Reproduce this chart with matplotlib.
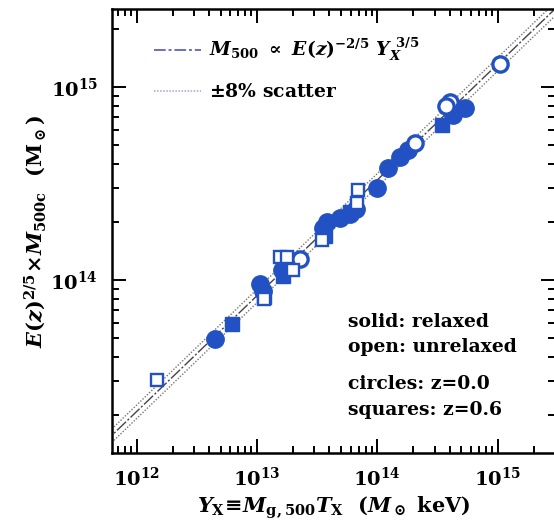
import numpy as np
import matplotlib
matplotlib.use("Agg")
import matplotlib.pyplot as plt
from matplotlib.lines import Line2D

plt.rcParams['font.family'] = ['DejaVu Serif']
plt.rcParams['font.weight'] = 'bold'
plt.rcParams['mathtext.fontset'] = 'custom'
plt.rcParams['mathtext.rm'] = 'DejaVu Serif:bold'
plt.rcParams['mathtext.it'] = 'DejaVu Serif:italic:bold'
plt.rcParams['mathtext.bf'] = 'DejaVu Serif:bold'

# ---- data ----
# filled circles: z=0.0, relaxed
yx_rel_z0 = [4.49e12, 1.06e13, 1.12e13, 1.61e13, 1.81e13, 3.52e13, 3.81e13, 4.89e13,
             5.92e13, 6.64e13, 9.91e13, 1.22e14, 1.54e14, 1.79e14, 4.24e14, 5.33e14]
m_rel_z0 = [4.94e13, 9.53e13, 8.77e13, 1.13e14, 1.21e14, 1.86e14, 2.00e14, 2.10e14,
            2.20e14, 2.33e14, 3.00e14, 3.80e14, 4.34e14, 4.72e14, 7.16e14, 7.78e14]
# filled squares: z=0.6, relaxed
yx_rel_z6 = [6.19e12, 1.14e13, 1.64e13, 3.68e13, 5.92e13, 3.44e14]
m_rel_z6 = [5.92e13, 8.17e13, 1.05e14, 1.69e14, 2.25e14, 6.35e14]
# open circles: z=0.0, unrelaxed
yx_unr_z0 = [2.27e13, 2.05e14, 4.00e14, 3.71e14, 1.04e15]
m_unr_z0 = [1.28e14, 5.13e14, 8.36e14, 7.97e14, 1.31e15]
# open squares: z=0.6, unrelaxed
yx_unr_z6 = [1.47e12, 1.55e13, 1.77e13, 1.99e13, 3.46e13, 6.88e13, 6.76e13, 1.14e13]
m_unr_z6 = [3.03e13, 1.32e14, 1.32e14, 1.13e14, 1.61e14, 2.93e14, 2.51e14, 7.98e13]

# relation M500 = 10^norm (Yx / 4e13)^(3/5), +/- 8% scatter
log_norm = 14.28
slope = 0.6
y_pivot = 4e13
scatter = 0.08

x_ticks = [1e12, 1e13, 1e14, 1e15]
y_ticks = [1e14, 1e15]

blue = '#2251c3'

fig = plt.figure(figsize=(5.54, 5.28), dpi=100)
ax = fig.add_axes([112/554, 75/528, 443/554, 444/528])
ax.set_xscale('log')
ax.set_yscale('log')
ax.set_xlim(6.24e11, 3.0e15)
ax.set_ylim(1.27e13, 2.54e15)

xx = np.logspace(11.5, 16, 200)
mm = 10**log_norm * (xx / y_pivot)**slope
ax.plot(xx, mm, color='#444444', lw=1.0, dashes=(9, 1.5, 1.5, 1.5), zorder=1)
ax.plot(xx, mm * (1 + scatter), color='#777777', lw=1.0, ls=(0, (1, 1.2)), zorder=1)
ax.plot(xx, mm * (1 - scatter), color='#777777', lw=1.0, ls=(0, (1, 1.2)), zorder=1)

ax.plot(yx_rel_z0, m_rel_z0, 'o', ms=12.5, color=blue, mec=blue, zorder=3)
ax.plot(yx_rel_z6, m_rel_z6, 's', ms=10.5, color=blue, mec=blue, zorder=3)
ax.plot(yx_unr_z0, m_unr_z0, 'o', ms=11, mfc='white', mec=blue, mew=2.4, zorder=4)
ax.plot(yx_unr_z6, m_unr_z6, 's', ms=9, mfc='white', mec=blue, mew=1.7, zorder=4)

handles = [Line2D([], [], color='#6a6fc4', lw=1.4, dashes=(6, 1.5, 1.5, 1.5)),
           Line2D([], [], color='#a0a0dc', lw=1.1, ls=(0, (1, 1)))]
labels = [r'$M_{500}\ \propto\ E(z)^{-2/5}\ Y_X^{\ 3/5}$', r'$\pm$8% scatter']
leg = ax.legend(handles, labels, loc='upper left', bbox_to_anchor=(0.095, 0.94),
                frameon=False, fontsize=13.5, handlelength=2.5, handletextpad=0.45,
                labelspacing=1.05, borderaxespad=0, borderpad=0)

txt_kw = dict(transform=ax.transAxes, fontsize=13.5, va='center', ha='left', fontweight='bold')
ax.text(0.533, 0.295, 'solid: relaxed', **txt_kw)
ax.text(0.533, 0.238, 'open: unrelaxed', **txt_kw)
ax.text(0.533, 0.155, 'circles: z=0.0', **txt_kw)
ax.text(0.533, 0.097, 'squares: z=0.6', **txt_kw)

ax.set_xticks(x_ticks)
ax.set_yticks(y_ticks)
ax.tick_params(which='both', direction='in', top=True, right=True, width=1.4)
ax.tick_params(which='major', length=10, labelsize=14, pad=10)
ax.tick_params(which='minor', length=5)
for s in ax.spines.values():
    s.set_linewidth(1.8)

ax.set_xlabel(r'$Y_{\rm X}\!\equiv\!M_{\rm g,500}T_{\rm X}\ \ (M_\odot\ {\rm keV})$', fontsize=15, labelpad=3)
ax.set_ylabel(r'$E(z)^{2/5}\!\times\!M_{\rm 500c}\ \ ({\rm M}_\odot)$', fontsize=15, labelpad=2)

fig.savefig('out.png', dpi=100)
